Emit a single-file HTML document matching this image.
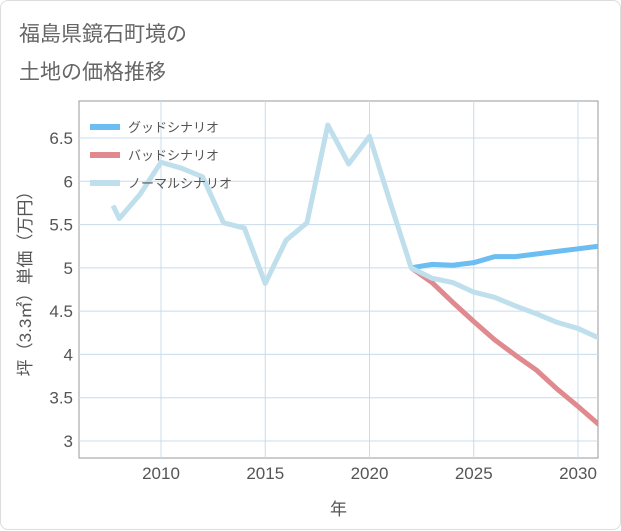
<!DOCTYPE html>
<html><head><meta charset="utf-8"><style>
body{margin:0;background:#fff;font-family:"Liberation Sans","Noto Sans CJK JP",sans-serif}
#card{position:absolute;left:0;top:0;width:619px;height:528px;border:1px solid #ddd;border-radius:8px;background:#fff}
</style></head><body>
<div id="card">
<svg id="c" width="621" height="530" style="position:absolute;left:0;top:0">
<text x="18" y="40" font-size="21" fill="#666">福島県鏡石町境の</text>
<text x="18" y="78" font-size="21" fill="#666">土地の価格推移</text>
</svg></div>
<script>
const normalYears=[2007.7,2008,2009,2010,2011,2012,2013,2014,2015,2016,2017,2018,2019,2020,2021,2022,2023,2024,2025,2026,2027,2028,2029,2030,2031];
const normalVals=[5.72,5.57,5.85,6.22,6.15,6.05,5.52,5.46,4.82,5.32,5.52,6.65,6.2,6.52,5.75,5.0,4.88,4.83,4.72,4.66,4.56,4.47,4.37,4.3,4.19];
const futYears=[2022,2023,2024,2025,2026,2027,2028,2029,2030,2031];
const goodVals=[5.0,5.04,5.03,5.06,5.13,5.13,5.16,5.19,5.22,5.25];
const badVals=[5.0,4.83,4.6,4.38,4.17,3.99,3.82,3.6,3.4,3.19];
const xTicks=[2010,2015,2020,2025,2030];
const yTicks=[3,3.5,4,4.5,5,5.5,6,6.5];
const L=78,R=597,T=100,B=457;
const X=v=>160+(v-2010)*(577-160)/20;
const Y=v=>440-(v-3)*(440-137)/3.5;
const s=document.getElementById('c');const NS='http://www.w3.org/2000/svg';
function el(t,a,p){const e=document.createElementNS(NS,t);for(const k in a)e.setAttribute(k,a[k]);(p||s).appendChild(e);return e;}
const frame=el('rect',{x:L,y:T,width:R-L,height:B-T,fill:'none',stroke:'#999','stroke-width':1});


yTicks.forEach(v=>{const g=el('line',{x1:L,x2:R,y1:Y(v),y2:Y(v),stroke:'#c8dcea'});


const t=el('text',{x:L-6,y:Y(v)+6,'text-anchor':'end','font-size':17,fill:'#555'});t.textContent=v;

});
xTicks.forEach(v=>{const g=el('line',{x1:X(v),x2:X(v),y1:T,y2:B,stroke:'#c8dcea'});


const t=el('text',{x:X(v),y:B+21,'text-anchor':'middle','font-size':17,fill:'#555'});t.textContent=v;

});
const xt=el('text',{x:(L+R)/2,y:514,'text-anchor':'middle','font-size':17,fill:'#555'});xt.textContent='年';


const yt=el('text',{x:0,y:0,'text-anchor':'middle','font-size':17,fill:'#555',transform:`translate(30,${(T+B)/2}) rotate(-90)`});yt.textContent='坪（3.3㎡）単価（万円）';


const clip=el('clipPath',{id:'cp'});el('rect',{x:L,y:T,width:R-L,height:B-T},clip);
function line(xs,vs,col,name){const p=el('polyline',{points:xs.map((x,i)=>X(x)+','+Y(vs[i])).join(' '),fill:'none',stroke:col,'stroke-width':5,'stroke-linejoin':'round','clip-path':'url(#cp)'});

}
line(futYears,badVals,'#e08a8f','bad-scenario-line');
line(futYears,goodVals,'#6bbdf2','good-scenario-line');
line(normalYears,normalVals,'#bfdfec','normal-scenario-line');
[['グッドシナリオ','#6bbdf2'],['バッドシナリオ','#e08a8f'],['ノーマルシナリオ','#bfdfec']].forEach((d,i)=>{const y=126+i*28;
const r=el('rect',{x:89,y:y-3,width:30,height:6,fill:d[1]});


const t=el('text',{x:127,y:y+5,'font-size':13,fill:'#555'});t.textContent=d[0];

});
</script></body></html>
